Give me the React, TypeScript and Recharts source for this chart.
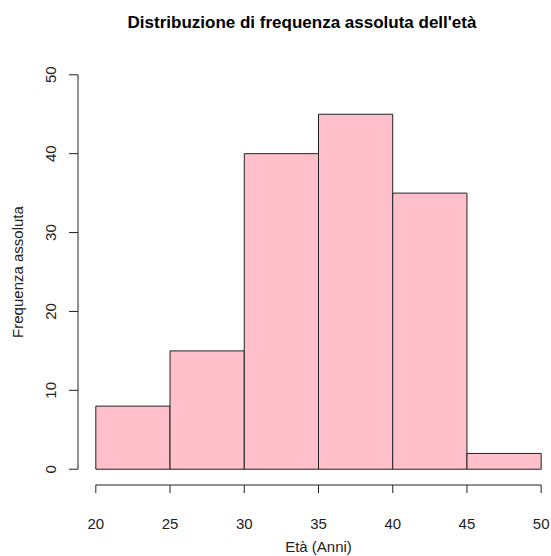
import { ComposedChart, XAxis, YAxis, ReferenceArea, ReferenceLine, Line } from "recharts";

const binStarts = [20, 25, 30, 35, 40, 45];
const binEnds = [25, 30, 35, 40, 45, 50];
const counts = [8, 15, 40, 45, 35, 2];
const xTicks = [20, 25, 30, 35, 40, 45, 50];
const yTicks = [0, 10, 20, 30, 40, 50];

const font = '"Liberation Sans", Arial, sans-serif';
const ink = "#222";

const data = binStarts.map((s, i) => ({ x: (s + binEnds[i]) / 2, y: counts[i] }));

const XTick = ({ x, y, payload }: any) => (
  <text x={x} y={y + 34} textAnchor="middle" fontSize={15} fontFamily={font} fill={ink}>
    {payload.value}
  </text>
);

const YTick = ({ x, y, payload }: any) => (
  <text
    x={x - 16}
    y={y}
    textAnchor="middle"
    dominantBaseline="central"
    transform={`rotate(-90 ${x - 16} ${y})`}
    fontSize={15}
    fontFamily={font}
    fill={ink}
  >
    {payload.value}
  </text>
);

export default function App() {
  return (
    <div style={{ position: "absolute", left: 0, top: 0, width: 551, height: 556, overflow: "hidden", background: "#fff" }}>
      <ComposedChart width={559} height={556} data={data} margin={{ top: 59, right: 0, bottom: 0, left: 0 }}>
        <XAxis
          type="number"
          dataKey="x"
          domain={[18.8, 51.2]}
          ticks={xTicks}
          axisLine={false}
          tickLine={{ stroke: ink }}
          tickSize={8}
          height={71}
          tick={<XTick />}
          interval={0}
        />
        <YAxis
          type="number"
          dataKey="y"
          domain={[-2, 52]}
          ticks={yTicks}
          axisLine={false}
          tickLine={{ stroke: ink }}
          tickSize={9}
          width={78}
          tick={<YTick />}
          interval={0}
        />
        <Line dataKey="y" stroke="none" dot={false} activeDot={false} isAnimationActive={false} />
        {binStarts.map((s, i) => (
          <ReferenceArea
            key={s}
            x1={s}
            x2={binEnds[i]}
            y1={0}
            y2={counts[i]}
            fill="#FFC0CB"
            fillOpacity={1}
            stroke={ink}
            strokeWidth={1}
            ifOverflow="visible"
          />
        ))}
        <ReferenceLine segment={[{ x: 20, y: -2 }, { x: 50, y: -2 }]} stroke={ink} ifOverflow="visible" />
        <ReferenceLine segment={[{ x: 18.8, y: 0 }, { x: 18.8, y: 50 }]} stroke={ink} ifOverflow="visible" />
      </ComposedChart>
      <div style={{ position: "absolute", left: 0, width: 604, top: 13, textAlign: "center", fontFamily: font, fontWeight: "bold", fontSize: 17, color: "#000" }}>
        Distribuzione di frequenza assoluta dell'età
      </div>
      <div style={{ position: "absolute", left: 0, width: 637, top: 538, textAlign: "center", fontFamily: font, fontSize: 15, color: ink }}>
        Età (Anni)
      </div>
      <div
        style={{
          position: "absolute",
          left: 18 - 100,
          top: 272 - 10,
          width: 200,
          height: 20,
          lineHeight: "20px",
          textAlign: "center",
          transform: "rotate(-90deg)",
          fontFamily: font,
          fontSize: 15,
          color: ink,
        }}
      >
        Frequenza assoluta
      </div>
    </div>
  );
}
